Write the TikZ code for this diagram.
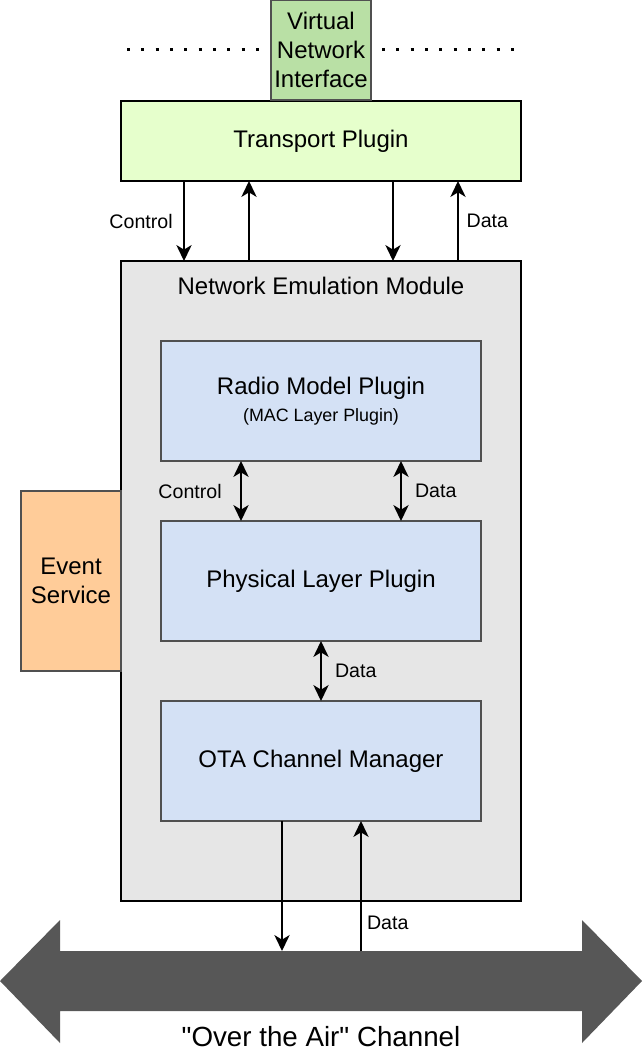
\documentclass[tikz,border=0pt]{standalone}
\usepackage{fontspec}
\setmainfont{Liberation Sans}
\usetikzlibrary{arrows.meta,calc}

\definecolor{vnigreen}{HTML}{B9E0A5}
\definecolor{tpgreen}{HTML}{E6FFCC}
\definecolor{nemgrey}{HTML}{E6E6E6}
\definecolor{plugblue}{HTML}{D4E1F5}
\definecolor{evorange}{HTML}{FFCC99}
\definecolor{edgegrey}{HTML}{505050}
\definecolor{airgrey}{HTML}{575757}

\newcommand{\mainsize}{\fontsize{18}{21.75}\selectfont}
\newcommand{\lblsize}{\fontsize{14.7}{17}\selectfont}
\newcommand{\subsize}{\fontsize{13.4}{16}\selectfont}
\newcommand{\airsize}{\fontsize{20.8}{24}\selectfont}

\tikzset{
	box/.style={draw=edgegrey,line width=1pt,outer sep=0pt,inner sep=0pt,
		align=center,font=\mainsize},
	plugin/.style={box,fill=plugblue,minimum width=240pt,minimum height=90pt},
	lbl/.style={font=\lblsize,inner sep=0pt},
	dots/.style={line width=2.25pt,dash pattern=on 2.25pt off 8.5pt}
}

\begin{document}
\begin{tikzpicture}[
		x=0.75pt,
		y=-0.75pt,
		>={Stealth[length=12pt,width=11.5pt,inset=3.5pt]},
		line width=1pt
		]
		\useasboundingbox (0,0) rectangle (642,1062);
		% dotted lines beside the interface
		\draw[dots] (127,50) -- (262,50);
		\draw[dots] (382,50) -- (516,50);
		% transport
		\node[box,draw=black,line width=1.5pt,fill=tpgreen,minimum width=300pt,minimum height=60pt] (tp) at (321,141) {Transport Plugin};
		\node[box,fill=vnigreen,minimum width=75pt,minimum height=75pt] (vni) at (321,50) {Virtual\\Network\\Interface};
		% emulation module
		\node[box,draw=black,line width=1.5pt,fill=nemgrey,minimum width=300pt,minimum height=480pt] (nem) at (321,581) {};
		\node[font=\mainsize,inner sep=0pt] (nemlbl) at (321,286) {Network Emulation Module};
		\node[plugin] (radio) at (321,401) {Radio Model Plugin\\[-2pt]{\subsize(MAC Layer Plugin)}};
		\node[plugin] (phy) at (321,581) {Physical Layer Plugin};
		\node[plugin] (ota) at (321,761) {OTA Channel Manager};
		\node[box,fill=evorange,minimum width=75pt,minimum height=135pt] (event) at (71,581) {Event\\Service};
		% over the air channel
		\fill[airgrey] (0,981) -- (60,920) -- (60,951) -- (582,951) -- (582,920) -- (642,981)
			-- (582,1043) -- (582,1011) -- (60,1011) -- (60,1043) -- cycle;
		\coordinate (airdown) at (282,951);
		\coordinate (airup) at (361,951);
		\node[font=\airsize,inner sep=0pt] (airlbl) at (321,1037) {\textquotedbl Over the Air\textquotedbl{} Channel};
		\begin{scope}[->]
		\draw ($(tp.south west)+(63,0)$) -- ($(nem.north west)+(63,0)$) node[lbl,midway,left=8pt] {Control};
		\draw ($(nem.north west)+(128,0)$) -- ($(tp.south west)+(128,0)$);
		\draw ($(tp.south west)+(272,0)$) -- ($(nem.north west)+(272,0)$);
		\draw ($(nem.north west)+(337,0)$) -- ($(tp.south west)+(337,0)$) node[lbl,midway,right=6pt] {Data};
		\draw[<->] ($(radio.south west)+(80,0)$) -- ($(phy.north west)+(80,0)$) node[lbl,midway,left=14pt] {Control};
		\draw[<->] ($(radio.south west)+(240,0)$) -- ($(phy.north west)+(240,0)$) node[lbl,midway,right=10pt] {Data};
		\draw[<->] (phy.south) -- (ota.north) node[lbl,midway,right=10pt] {Data};
		\draw (ota.south -| airdown) -- (airdown);
		\draw (airup) -- (ota.south -| airup) node[lbl,pos=0.22,right=4pt] {Data};
		\end{scope}
		\end{tikzpicture}
\end{document}
